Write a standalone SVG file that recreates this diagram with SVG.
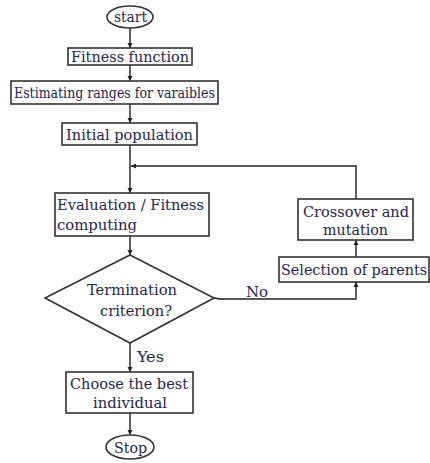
<svg xmlns="http://www.w3.org/2000/svg" width="430" height="463" viewBox="0 0 430 463">
<style>
.box{fill:#fff;stroke:#333;stroke-width:1.6}
.t{font-family:'DejaVu Serif',serif;font-stretch:condensed;font-size:15px;fill:#262650}
.c{text-anchor:middle}
.ln{fill:none;stroke:#222;stroke-width:1.4}
</style>
<defs>
<marker id="ar" markerWidth="6" markerHeight="6" refX="5" refY="3" orient="auto" markerUnits="userSpaceOnUse">
<path d="M0,0.5 L5,3 L0,5.5 Z" fill="#222"/>
</marker>
</defs>
<rect width="430" height="463" fill="#fff"/>
<g id="connectors">
<path class="ln" d="M130,28 V48" marker-end="url(#ar)"/>
<path class="ln" d="M130,65 V81" marker-end="url(#ar)"/>
<path class="ln" d="M130,104 V123" marker-end="url(#ar)"/>
<path class="ln" d="M130,145 V193" marker-end="url(#ar)"/>
<path class="ln" d="M356,199 V166 H131" marker-end="url(#ar)"/>
<path class="ln" d="M130,236 V255" marker-end="url(#ar)"/>
<path class="ln" d="M130,343 V372" marker-end="url(#ar)"/>
<path class="ln" d="M130,413 V435" marker-end="url(#ar)"/>
<path class="ln" d="M214,298 L220,299 H356 V282" marker-end="url(#ar)"/>
<path class="ln" d="M356,257 V240" marker-end="url(#ar)"/>
<text class="t" x="246" y="297" textLength="22" lengthAdjust="spacingAndGlyphs">No</text>
<text class="t" x="137" y="362" textLength="27" lengthAdjust="spacingAndGlyphs">Yes</text>
</g>
<g id="start">
<ellipse class="box" cx="130" cy="17" rx="23" ry="11"/>
<text class="t" x="114" y="22" textLength="33" lengthAdjust="spacingAndGlyphs">start</text>
</g>
<g id="fitness">
<rect class="box" x="68" y="48" width="124" height="17"/>
<text class="t" x="71" y="61.5" textLength="118" lengthAdjust="spacingAndGlyphs">Fitness function</text>
</g>
<g id="estimating">
<rect class="box" x="11" y="81" width="207" height="23"/>
<text class="t" x="14" y="97.5" textLength="201" lengthAdjust="spacingAndGlyphs">Estimating ranges for varaibles</text>
</g>
<g id="initial">
<rect class="box" x="62" y="123" width="135" height="22"/>
<text class="t" x="66" y="139.5" textLength="127" lengthAdjust="spacingAndGlyphs">Initial population</text>
</g>
<g id="evaluation">
<rect class="box" x="55" y="193" width="154" height="43"/>
<text class="t" x="57" y="209.5" textLength="147" lengthAdjust="spacingAndGlyphs">Evaluation / Fitness</text>
<text class="t" x="57" y="229.5" textLength="80" lengthAdjust="spacingAndGlyphs">computing</text>
</g>
<g id="termination">
<polygon class="box" points="130,255 214,298 130,343 45,298"/>
<text class="t" x="87" y="295" textLength="90" lengthAdjust="spacingAndGlyphs">Termination</text>
<text class="t" x="100" y="316" textLength="72" lengthAdjust="spacingAndGlyphs">criterion?</text>
</g>
<g id="choose">
<rect class="box" x="66" y="372" width="127" height="41"/>
<text class="t" x="70" y="388.5" textLength="118" lengthAdjust="spacingAndGlyphs">Choose the best</text>
<text class="t" x="93" y="407.5" textLength="74" lengthAdjust="spacingAndGlyphs">individual</text>
</g>
<g id="stop">
<ellipse class="box" cx="130" cy="447" rx="24" ry="12"/>
<text class="t" x="114" y="452.5" textLength="33" lengthAdjust="spacingAndGlyphs">Stop</text>
</g>
<g id="selection">
<rect class="box" x="279" y="257" width="150" height="25"/>
<text class="t" x="281" y="275" textLength="146" lengthAdjust="spacingAndGlyphs">Selection of parents</text>
</g>
<g id="crossover">
<rect class="box" x="298" y="199" width="115" height="41"/>
<text class="t" x="303" y="216.5" textLength="106" lengthAdjust="spacingAndGlyphs">Crossover and</text>
<text class="t" x="323" y="234.5" textLength="65" lengthAdjust="spacingAndGlyphs">mutation</text>
</g>
</svg>
